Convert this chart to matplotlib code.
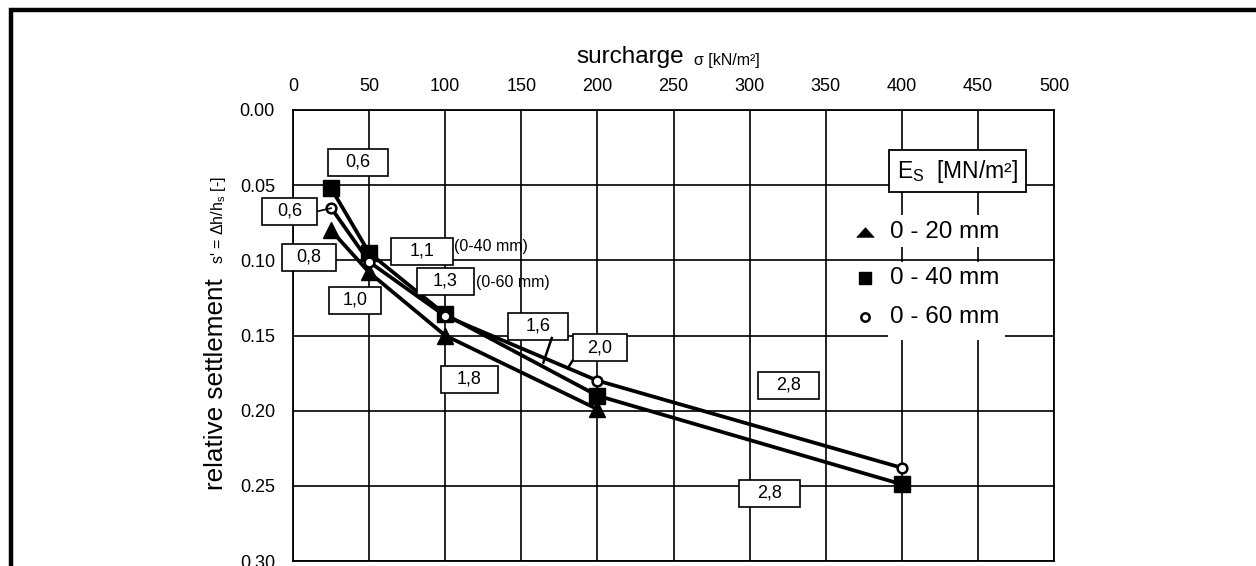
import matplotlib
matplotlib.use("Agg")
import matplotlib.pyplot as plt
from matplotlib.patches import Rectangle
from matplotlib.lines import Line2D

plt.rcParams['font.family'] = ['Liberation Sans', 'DejaVu Sans']

# ---------------- data ----------------
sigma_20 = [25, 50, 100, 200]
s_20 = [0.080, 0.108, 0.150, 0.199]

sigma_40 = [25, 50, 100, 200, 400]
s_40 = [0.052, 0.095, 0.136, 0.190, 0.249]

sigma_60 = [25, 50, 100, 200, 400]
s_60 = [0.065, 0.101, 0.137, 0.180, 0.238]

series_labels = ["0 - 20 mm", "0 - 40 mm", "0 - 60 mm"]
es_labels = ["0,6", "0,6", "0,8", "1,0", "1,1", "1,3", "1,6", "2,0", "1,8", "2,8", "2,8"]
x_ticks = [0, 50, 100, 150, 200, 250, 300, 350, 400, 450, 500]
y_ticks = [0.00, 0.05, 0.10, 0.15, 0.20, 0.25, 0.30]

# ---------------- layout ----------------
W, H = 1256, 566
fig = plt.figure(figsize=(W / 100, H / 100), dpi=100)
fig.patch.set_facecolor('white')
ax_l, ax_r, ax_t, ax_b = 293, 1054, 110, 561
ax = fig.add_axes([ax_l / W, (H - ax_b) / H, (ax_r - ax_l) / W, (ax_b - ax_t) / H])

ax.set_xlim(0, 500)
ax.set_ylim(0.30, 0.0)
ax.set_xticks(x_ticks)
ax.set_yticks(y_ticks)
ax.set_yticklabels([f"{v:.2f}" for v in y_ticks])
ax.xaxis.tick_top()
ax.tick_params(axis='x', length=0, pad=11, labelsize=13)
ax.tick_params(axis='y', length=0, pad=13, labelsize=13)
ax.grid(True, color='black', linewidth=1.2)
ax.set_axisbelow(True)
for sp in ax.spines.values():
    sp.set_linewidth(1.3)
    sp.set_color('black')

# px -> data helpers for annotation sizes
px_x = 500 / (ax_r - ax_l)
px_y = 0.30 / (ax_b - ax_t)

# ---------------- series ----------------
ax.plot(sigma_20, s_20, color='black', lw=2.7, marker='^', ms=11, mfc='black', mec='black', zorder=4)
ax.plot(sigma_40, s_40, color='black', lw=2.7, marker='s', ms=11, mfc='black', mec='black', zorder=4)
ax.plot(sigma_60, s_60, color='black', lw=2.7, marker='o', ms=7, mfc='white', mec='black', mew=1.8, zorder=5)

# ---------------- value boxes ----------------
box_pos = [(42.7, 0.0346, 60), (-2.0, 0.0673, 55), (10.5, 0.098, 54), (40.7, 0.1267, 52),
           (84.8, 0.094, 62), (100.0, 0.114, 57), (161.0, 0.1438, 60), (201.7, 0.158, 54),
           (115.8, 0.179, 57), (325.6, 0.183, 61), (313.0, 0.255, 61)]
bh = 27 * px_y
for lab, (cx, cy, wpx) in zip(es_labels, box_pos):
    bw = wpx * px_x
    ax.add_patch(Rectangle((cx - bw / 2, cy - bh / 2), bw, bh, facecolor='white',
                           edgecolor='black', lw=1.2, zorder=6, clip_on=False))
    ax.text(cx, cy, lab, ha='center', va='center', fontsize=13, zorder=7, clip_on=False)

# leader lines
ax.plot([16.5, 25], [0.0673, 0.0653], color='black', lw=1.2, zorder=6, clip_on=False)
ax.plot([170.0, 164.5], [0.1517, 0.168], color='black', lw=1.8, zorder=6)
ax.plot([183.5, 180.5], [0.167, 0.1718], color='black', lw=1.8, zorder=6)

ax.text(106, 0.091, "(0-40 mm)", ha='left', va='center', fontsize=11.5, zorder=7)
ax.text(120.5, 0.115, "(0-60 mm)", ha='left', va='center', fontsize=11.5, zorder=7)

# ---------------- legend (manual) ----------------
ax.add_patch(Rectangle((391.5, 0.0266), 90.0, 0.028, facecolor='white', edgecolor='black',
                       lw=1.3, zorder=6))
ax.text(436.5, 0.0406, "E$_\\mathregular{S}$  [MN/m²]", ha='center', va='center', fontsize=16.5, zorder=7)
ax.add_patch(Rectangle((391.0, 0.0699), 77.0, 0.0213, facecolor='white', edgecolor='none', zorder=3))
ax.add_patch(Rectangle((391.0, 0.1012), 77.0, 0.0515, facecolor='white', edgecolor='none', zorder=3))
leg_y = [0.0812, 0.1119, 0.1378]
for lab, yy in zip(series_labels, leg_y):
    ax.text(392.5, yy, lab, ha='left', va='center', fontsize=17.5, zorder=7)
flat_tri = [(-1.0, -0.55), (1.0, -0.55), (0.0, 0.55), (-1.0, -0.55)]
ax.plot([375.8], [leg_y[0]], marker=flat_tri, ms=12.5, mfc='black', mec='black', mew=0.5,
        ls='none', zorder=7)
ax.plot([375.8], [leg_y[1]], marker='s', ms=8.5, mfc='black', mec='black', ls='none', zorder=7)
ax.plot([375.8], [leg_y[2]], marker='o', ms=6, mfc='white', mec='black', mew=1.8, ls='none', zorder=7)

# ---------------- axis titles ----------------
fig.text(576 / W, (H - 57) / H, "surcharge", ha='left', va='center', fontsize=17.5)
fig.text(694 / W, (H - 60) / H, "σ [kN/m²]", ha='left', va='center', fontsize=11.5)
fig.text(223 / W, (H - 490) / H, "relative settlement", rotation=90, rotation_mode='anchor',
         ha='left', va='baseline', fontsize=18.8)
fig.text(223 / W, (H - 264) / H, "s' = Δh/h$_\\mathregular{s}$ [-]", rotation=90,
         rotation_mode='anchor', ha='left', va='baseline', fontsize=11.5)

# ---------------- outer frame ----------------
fig.add_artist(Line2D([11 / W, 11 / W, 1.01], [-0.01, (H - 10) / H, (H - 10) / H],
                      color='black', lw=3.2, solid_joinstyle='miter', transform=fig.transFigure))

fig.savefig("out.png", dpi=100, facecolor='white')
